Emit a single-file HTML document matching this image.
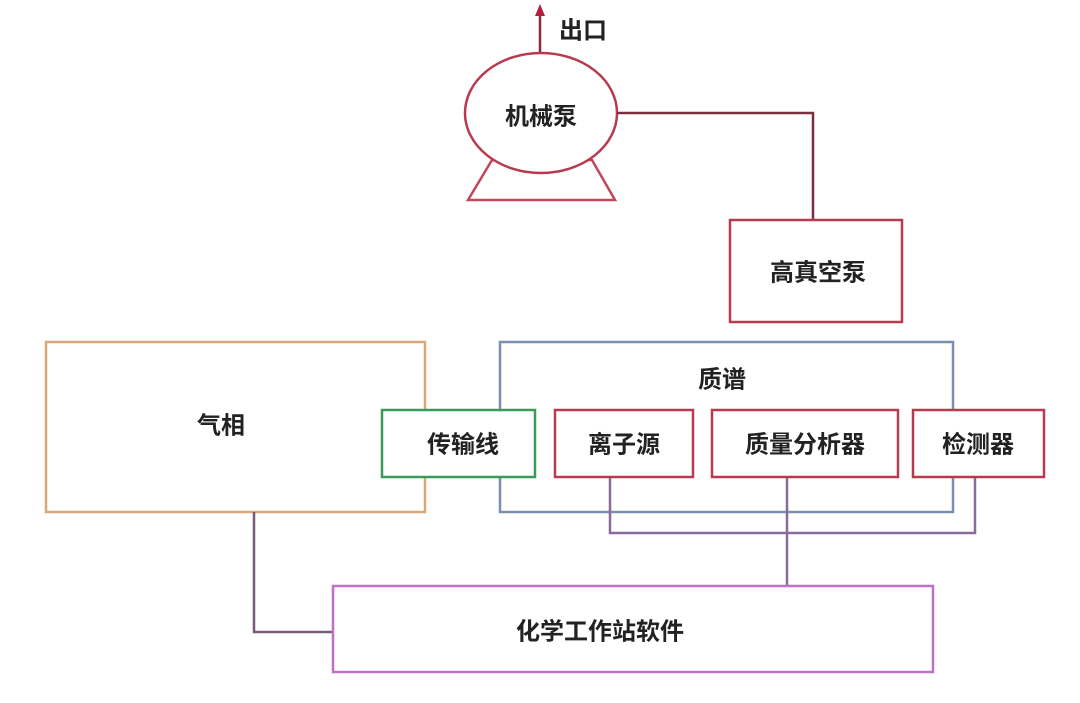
<!DOCTYPE html>
<html><head><meta charset="utf-8"><style>
html,body{margin:0;padding:0;background:#fff;}
svg text{font-family:"Liberation Sans","Noto Sans CJK SC",sans-serif;font-weight:bold;fill:#222;font-size:24px;text-anchor:middle;dominant-baseline:central;}
</style></head><body>
<svg width="1080" height="698" viewBox="0 0 1080 698" xmlns="http://www.w3.org/2000/svg">
<rect width="1080" height="698" fill="#fff"/>
<g fill="none" stroke-width="2.5">
<line x1="540" y1="53" x2="540" y2="12" stroke="#8a2a3a"/>
<polygon points="540,4 535,16 545,16" fill="#b0203a" stroke="none"/>
<polygon points="492,160 468,200 615,200 592,160" stroke="#c0485a" fill="#fff"/>
<ellipse cx="541" cy="113" rx="76" ry="60" stroke="#b83a4e" fill="#fff"/>
<polyline points="617,113 813,113 813,220" stroke="#7a3040"/>
<rect x="730" y="220" width="172" height="102" stroke="#b83a4e"/>
<rect x="46" y="342" width="379" height="170" stroke="#d9a878"/>
<rect x="500" y="342" width="453" height="170" stroke="#7a8fb0"/>
<polyline points="610,477 610,533 975,533 975,477" stroke="#8a6a9a"/>
<line x1="787" y1="477" x2="787" y2="586" stroke="#8a6a9a"/>
<polyline points="254,512 254,632 333,632" stroke="#7a5a7a"/>
<rect x="382" y="410" width="153" height="67" stroke="#3a9a5a" fill="#fff"/>
<rect x="555" y="410" width="138" height="67" stroke="#b83a4e" fill="#fff"/>
<rect x="712" y="410" width="186" height="67" stroke="#b83a4e" fill="#fff"/>
<rect x="913" y="410" width="131" height="67" stroke="#b83a4e" fill="#fff"/>
<rect x="333" y="586" width="600" height="86" stroke="#c070c8"/>
</g>
<text x="583" y="31">出口</text>
<text x="541" y="117">机械泵</text>
<text x="818" y="273">高真空泵</text>
<text x="221" y="426">气相</text>
<text x="722" y="380">质谱</text>
<text x="463" y="445">传输线</text>
<text x="624" y="445">离子源</text>
<text x="805" y="445">质量分析器</text>
<text x="978" y="445">检测器</text>
<text x="600" y="632">化学工作站软件</text>
</svg>
</body></html>
